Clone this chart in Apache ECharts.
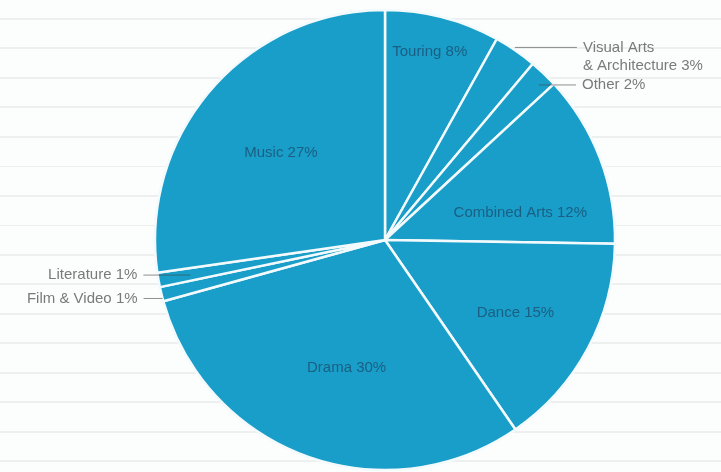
<!DOCTYPE html>
<html>
<head>
<meta charset="utf-8">
<title>Arts funding by sector</title>
<script src="https://cdn.jsdelivr.net/npm/echarts@6/dist/echarts.min.js"></script>
<style>
  html, body { margin: 0; padding: 0; background: #fcfdfd; }
  #chart {
    width: 721px; height: 472px;
    background: repeating-linear-gradient(180deg, #fcfdfd 0px, #fcfdfd 27px, #eef0f0 27px, #eef0f0 29px, #fcfdfd 29px, #fcfdfd 29.5px);
    background-position: 0 -9px;
  }
</style>
</head>
<body>
<div id="chart"></div>
<script>
// Sectors, clockwise from twelve o'clock
const categories = ['Touring', 'Visual Arts\n& Architecture', 'Other', 'Combined Arts', 'Dance', 'Drama', 'Film & Video', 'Literature', 'Music'];
// Share of funding, per cent
const shares = [8, 3, 2, 12, 15, 30, 1, 1, 27];

// Pie geometry
const CX = 385, CY = 240, R = 230;

// Where each label sits: t = fraction along the sector's sweep, k = fraction of the radius.
// Labels with `lead` sit outside and get a horizontal leader line of that length.
const placement = {
  'Touring':                    { t: 0.46, k: 0.84 },
  'Visual Arts\n& Architecture':{ t: 0.45, k: 1.01, lead: 62, gap: 6, dy: 9 },
  'Other':                      { t: 0.66, k: 0.95, lead: 37, gap: 6 },
  'Combined Arts':              { t: 0.72, k: 0.60 },
  'Dance':                      { t: 0.52, k: 0.65 },
  'Drama':                      { t: 0.47, k: 0.58 },
  'Film & Video':               { t: 0.20, k: 1.00, lead: 19, gap: 6 },
  'Literature':                 { t: 0.44, k: 0.86, lead: 47, gap: 6 },
  'Music':                      { t: 0.49, k: 0.59 }
};

const total = shares.reduce((a, b) => a + b, 0);
const starts = [];
shares.reduce((acc, v) => { starts.push(acc); return acc + v; }, 0);

function polar(i, t, k) {
  const a = (starts[i] + t * shares[i]) / total * 2 * Math.PI;
  return [CX + k * R * Math.sin(a), CY - k * R * Math.cos(a)];
}

const FILL = '#189ec8';
const INNER_TEXT = '#1b5f84';
const OUTER_TEXT = '#7a7a7a';

const sectorData = categories.map((name, i) => ({ name: name, value: shares[i] }));

const labelData = categories.map((name, i) => {
  const outside = !!placement[name].lead;
  return {
    name: name,
    value: shares[i],
    label: { color: outside ? OUTER_TEXT : INNER_TEXT },
    labelLine: { show: outside }
  };
});

const chart = echarts.init(document.getElementById('chart'), null, { renderer: 'canvas' });

chart.setOption({
  animation: false,
  backgroundColor: 'transparent',
  series: [
    {
      // the sectors
      type: 'pie',
      z: 2,
      center: [CX, CY],
      radius: R,
      startAngle: 90,
      clockwise: true,
      silent: true,
      color: [FILL],
      itemStyle: { color: FILL, borderColor: '#f2fafd', borderWidth: 2.5 },
      label: { show: false },
      labelLine: { show: false },
      data: sectorData
    },
    {
      // labels and leader lines, drawn over the sectors
      type: 'pie',
      z: 3,
      center: [CX, CY],
      radius: R,
      startAngle: 90,
      clockwise: true,
      silent: true,
      avoidLabelOverlap: false,
      itemStyle: { color: 'rgba(0,0,0,0)', borderWidth: 0 },
      label: {
        show: true,
        position: 'outside',
        fontFamily: 'Liberation Sans, Arial, sans-serif',
        fontSize: 15,
        lineHeight: 18,
        formatter: p => p.name + ' ' + p.value + '%'
      },
      labelLine: {
        show: true,
        length: 0,
        length2: 10,
        lineStyle: { color: 'rgba(70,70,70,0.6)', width: 1 }
      },
      labelLayout: function (p) {
        const i = p.dataIndex;
        const pl = placement[categories[i]];
        const pt = polar(i, pl.t, pl.k);
        if (!pl.lead) {
          return { x: pt[0], y: pt[1], align: 'center', verticalAlign: 'middle' };
        }
        const dir = pt[0] > CX ? 1 : -1;
        const xEnd = pt[0] + dir * pl.lead;
        return {
          x: xEnd + dir * pl.gap,
          y: pt[1] + (pl.dy || 0),
          align: dir > 0 ? 'left' : 'right',
          verticalAlign: 'middle',
          labelLinePoints: [[pt[0], pt[1]], [pt[0], pt[1]], [xEnd, pt[1]]]
        };
      },
      data: labelData
    }
  ]
});
</script>
</body>
</html>
